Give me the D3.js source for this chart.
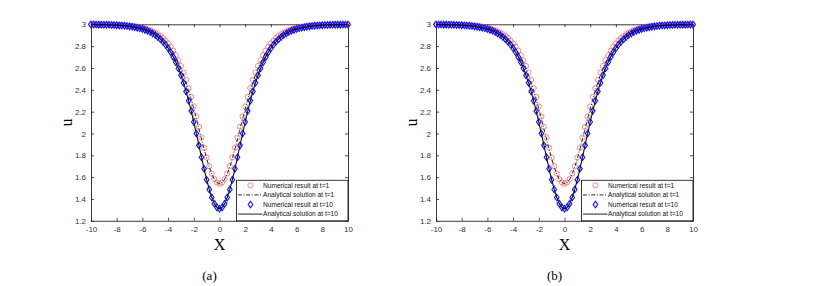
<!DOCTYPE html>
<html>
<head>
<meta charset="utf-8">
<script src="https://cdn.jsdelivr.net/npm/d3@7/dist/d3.min.js"></script>
<style>
  body { margin: 0; background: #fff; }
  svg { display: block; }
  .tick text { font-family: "Liberation Sans", Arial, sans-serif; font-size: 8px; fill: #333; }
  .leg text { font-family: "Liberation Sans", Arial, sans-serif; font-size: 6.6px; fill: #111; }
</style>
</head>
<body>
<svg id="fig" width="814" height="286"></svg>
<script>
// x grid (step 0.2)
var xs = [-10,-9.8,-9.6,-9.4,-9.2,-9,-8.8,-8.6,-8.4,-8.2,-8,-7.8,-7.6,-7.4,-7.2,-7,-6.8,-6.6,-6.4,-6.2,
  -6,-5.8,-5.6,-5.4,-5.2,-5,-4.8,-4.6,-4.4,-4.2,-4,-3.8,-3.6,-3.4,-3.2,-3,-2.8,-2.6,-2.4,-2.2,
  -2,-1.8,-1.6,-1.4,-1.2,-1,-0.8,-0.6,-0.4,-0.2,0,
  0.2,0.4,0.6,0.8,1,1.2,1.4,1.6,1.8,2,2.2,2.4,2.6,2.8,3,3.2,3.4,3.6,3.8,4,
  4.2,4.4,4.6,4.8,5,5.2,5.4,5.6,5.8,6,6.2,6.4,6.6,6.8,7,7.2,7.4,7.6,7.8,8,8.2,8.4,8.6,8.8,9,9.2,9.4,9.6,9.8,10];

// numerical result at t=1
var numT1 = [2.999,2.999,2.998,2.998,2.998,2.997,2.997,2.996,2.996,2.995,2.994,2.993,2.992,2.990,2.988,2.986,2.983,2.980,2.977,2.972,
  2.967,2.961,2.953,2.945,2.935,2.923,2.909,2.892,2.873,2.851,2.824,2.794,2.758,2.717,2.671,2.618,2.558,2.491,2.416,2.335,
  2.248,2.155,2.060,1.963,1.869,1.780,1.700,1.633,1.582,1.551,1.540,
  1.551,1.582,1.633,1.700,1.780,1.869,1.963,2.060,2.155,2.248,2.335,2.416,2.491,2.558,2.618,2.671,2.717,2.758,2.794,2.824,
  2.851,2.873,2.892,2.909,2.923,2.935,2.945,2.953,2.961,2.967,2.972,2.977,2.980,2.983,2.986,2.988,2.990,2.992,2.993,2.994,
  2.995,2.996,2.996,2.997,2.997,2.998,2.998,2.998,2.999,2.999];

// analytical solution at t=1
var anaT1 = [2.999,2.998,2.998,2.998,2.997,2.997,2.996,2.996,2.995,2.994,2.993,2.992,2.990,2.988,2.986,2.984,2.981,2.977,2.973,2.968,
  2.963,2.956,2.948,2.939,2.928,2.915,2.900,2.882,2.862,2.838,2.811,2.779,2.742,2.700,2.652,2.597,2.537,2.469,2.394,2.313,
  2.227,2.136,2.042,1.948,1.856,1.770,1.693,1.629,1.580,1.550,1.540,
  1.550,1.580,1.629,1.693,1.770,1.856,1.948,2.042,2.136,2.227,2.313,2.394,2.469,2.537,2.597,2.652,2.700,2.742,2.779,2.811,
  2.838,2.862,2.882,2.900,2.915,2.928,2.939,2.948,2.956,2.963,2.968,2.973,2.977,2.981,2.984,2.986,2.988,2.990,2.992,2.993,
  2.994,2.995,2.996,2.996,2.997,2.997,2.998,2.998,2.998,2.999];

// numerical result at t=10
var numT10 = [2.998,2.998,2.998,2.997,2.997,2.996,2.996,2.995,2.994,2.993,2.992,2.990,2.989,2.987,2.984,2.981,2.978,2.974,2.969,2.963,
  2.957,2.949,2.940,2.929,2.916,2.902,2.884,2.864,2.840,2.813,2.781,2.744,2.701,2.652,2.597,2.534,2.464,2.385,2.299,2.205,
  2.105,1.999,1.891,1.782,1.676,1.576,1.487,1.413,1.357,1.322,1.310,
  1.322,1.357,1.413,1.487,1.576,1.676,1.782,1.891,1.999,2.105,2.205,2.299,2.385,2.464,2.534,2.597,2.652,2.701,2.744,2.781,
  2.813,2.840,2.864,2.884,2.902,2.916,2.929,2.940,2.949,2.957,2.963,2.969,2.974,2.978,2.981,2.984,2.987,2.989,2.990,2.992,
  2.993,2.994,2.995,2.996,2.996,2.997,2.997,2.998,2.998,2.998];

// analytical solution at t=10
var anaT10 = [2.998,2.998,2.998,2.997,2.997,2.996,2.996,2.995,2.994,2.993,2.992,2.990,2.989,2.987,2.984,2.981,2.978,2.974,2.969,2.963,
  2.957,2.949,2.940,2.929,2.916,2.902,2.884,2.864,2.840,2.813,2.781,2.744,2.701,2.652,2.597,2.534,2.464,2.385,2.299,2.205,
  2.105,1.999,1.891,1.782,1.676,1.576,1.487,1.413,1.357,1.322,1.310,
  1.322,1.357,1.413,1.487,1.576,1.676,1.782,1.891,1.999,2.105,2.205,2.299,2.385,2.464,2.534,2.597,2.652,2.701,2.744,2.781,
  2.813,2.840,2.864,2.884,2.902,2.916,2.929,2.940,2.949,2.957,2.963,2.969,2.974,2.978,2.981,2.984,2.987,2.989,2.990,2.992,
  2.993,2.994,2.995,2.996,2.996,2.997,2.997,2.998,2.998,2.998];

var xTicks = [-10,-8,-6,-4,-2,0,2,4,6,8,10];
var yTicks = [1.2,1.4,1.6,1.8,2,2.2,2.4,2.6,2.8,3];
var legendLabels = ["Numerical result at t=1", "Analytical solution at t=1",
                    "Numerical result at t=10", "Analytical solution at t=10"];
var panelLabels = ["(a)", "(b)"];

var svg = d3.select("#fig");
var width = 257, height = 196.5;

function drawPanel(left, top, label) {
  var g = svg.append("g").attr("transform", "translate(" + left + "," + top + ")");

  var x = d3.scaleLinear().domain([-10, 10]).range([0, width]),
      y = d3.scaleLinear().domain([1.2, 3]).range([height, 0]);

  // axes, MATLAB style: ticks inside, box on
  var fmt = function(d){ return String(d); };
  g.append("g").attr("transform", "translate(0," + height + ")")
    .call(d3.axisBottom(x).tickValues(xTicks).tickFormat(fmt).tickSizeInner(-3).tickSizeOuter(0).tickPadding(6));
  g.append("g")
    .call(d3.axisTop(x).tickValues(xTicks).tickFormat("").tickSizeInner(-3).tickSizeOuter(0));
  g.append("g")
    .call(d3.axisLeft(y).tickValues(yTicks).tickFormat(fmt).tickSizeInner(-3).tickSizeOuter(0).tickPadding(5));
  g.append("g").attr("transform", "translate(" + width + ",0)")
    .call(d3.axisRight(y).tickValues(yTicks).tickFormat("").tickSizeInner(-3).tickSizeOuter(0));
  g.selectAll(".domain").attr("stroke", "#222").attr("stroke-width", 0.9);
  g.selectAll(".tick line").attr("stroke", "#222").attr("stroke-width", 0.8);

  var line = d3.line()
    .x(function(d, i){ return x(xs[i]); })
    .y(function(d){ return y(d); });

  // numerical t=1: red circles
  g.append("g").selectAll("circle").data(numT1).enter().append("circle")
    .attr("cx", function(d, i){ return x(xs[i]); })
    .attr("cy", function(d){ return y(d); })
    .attr("r", 2.6)
    .attr("fill", "none").attr("stroke", "#f26a6a").attr("stroke-width", 0.8);

  // analytical t=1: dash-dot
  g.append("path").datum(anaT1).attr("d", line)
    .attr("fill", "none").attr("stroke", "#111").attr("stroke-width", 0.9)
    .attr("stroke-dasharray", "4,1.6,1,1.6");

  // numerical t=10: blue diamonds
  var dia = "M0,-3.3L2.3,0L0,3.3L-2.3,0Z";
  g.append("g").selectAll("path").data(numT10).enter().append("path")
    .attr("transform", function(d, i){ return "translate(" + x(xs[i]) + "," + y(d) + ")"; })
    .attr("d", dia)
    .attr("fill", "none").attr("stroke", "#1010ff").attr("stroke-width", 1.1);

  // analytical t=10: solid
  g.append("path").datum(anaT10).attr("d", line)
    .attr("fill", "none").attr("stroke", "#111").attr("stroke-width", 1.1);

  // legend
  var lw = 111.5, lh = 40.5;
  var leg = g.append("g").attr("class", "leg")
    .attr("transform", "translate(" + (width - lw) + "," + (height - lh) + ")");
  leg.append("rect").attr("width", lw).attr("height", lh)
    .attr("fill", "#fff").attr("stroke", "#222").attr("stroke-width", 0.9);
  var rows = leg.selectAll("g.row").data(legendLabels).enter().append("g")
    .attr("class", "row")
    .attr("transform", function(d, i){ return "translate(0," + (5 + i * 9.6) + ")"; });
  rows.append("text").attr("x", 26.5).attr("y", 2.3).text(function(d){ return d; });
  rows.filter(function(d, i){ return i === 0; }).append("circle")
    .attr("cx", 14).attr("r", 2.6)
    .attr("fill", "none").attr("stroke", "#f26a6a").attr("stroke-width", 0.8);
  rows.filter(function(d, i){ return i === 1; }).append("line")
    .attr("x1", 1.5).attr("x2", 26).attr("stroke", "#111").attr("stroke-width", 0.9)
    .attr("stroke-dasharray", "4,1.6,1,1.6");
  rows.filter(function(d, i){ return i === 2; }).append("path")
    .attr("transform", "translate(14,0)").attr("d", dia)
    .attr("fill", "none").attr("stroke", "#1010ff").attr("stroke-width", 1.1);
  rows.filter(function(d, i){ return i === 3; }).append("line")
    .attr("x1", 1.5).attr("x2", 26).attr("stroke", "#555").attr("stroke-width", 1.3);

  // axis titles
  g.append("text")
    .attr("x", width / 2).attr("y", height + 29)
    .attr("text-anchor", "middle")
    .style("font-family", "'Liberation Serif', 'Times New Roman', serif").style("font-size", "16px")
    .text("X");
  g.append("text")
    .attr("transform", "translate(-19," + (height / 2) + ") rotate(-90)")
    .attr("text-anchor", "middle")
    .style("font-family", "'Liberation Serif', 'Times New Roman', serif").style("font-size", "16px")
    .text("u");
  g.append("text")
    .attr("x", width / 2 - 10).attr("y", height + 59)
    .attr("text-anchor", "middle")
    .style("font-family", "'Liberation Serif', 'Times New Roman', serif").style("font-size", "13px")
    .text(label);
}

drawPanel(91, 24.3, panelLabels[0]);
drawPanel(436, 24.3, panelLabels[1]);
</script>
</body>
</html>
